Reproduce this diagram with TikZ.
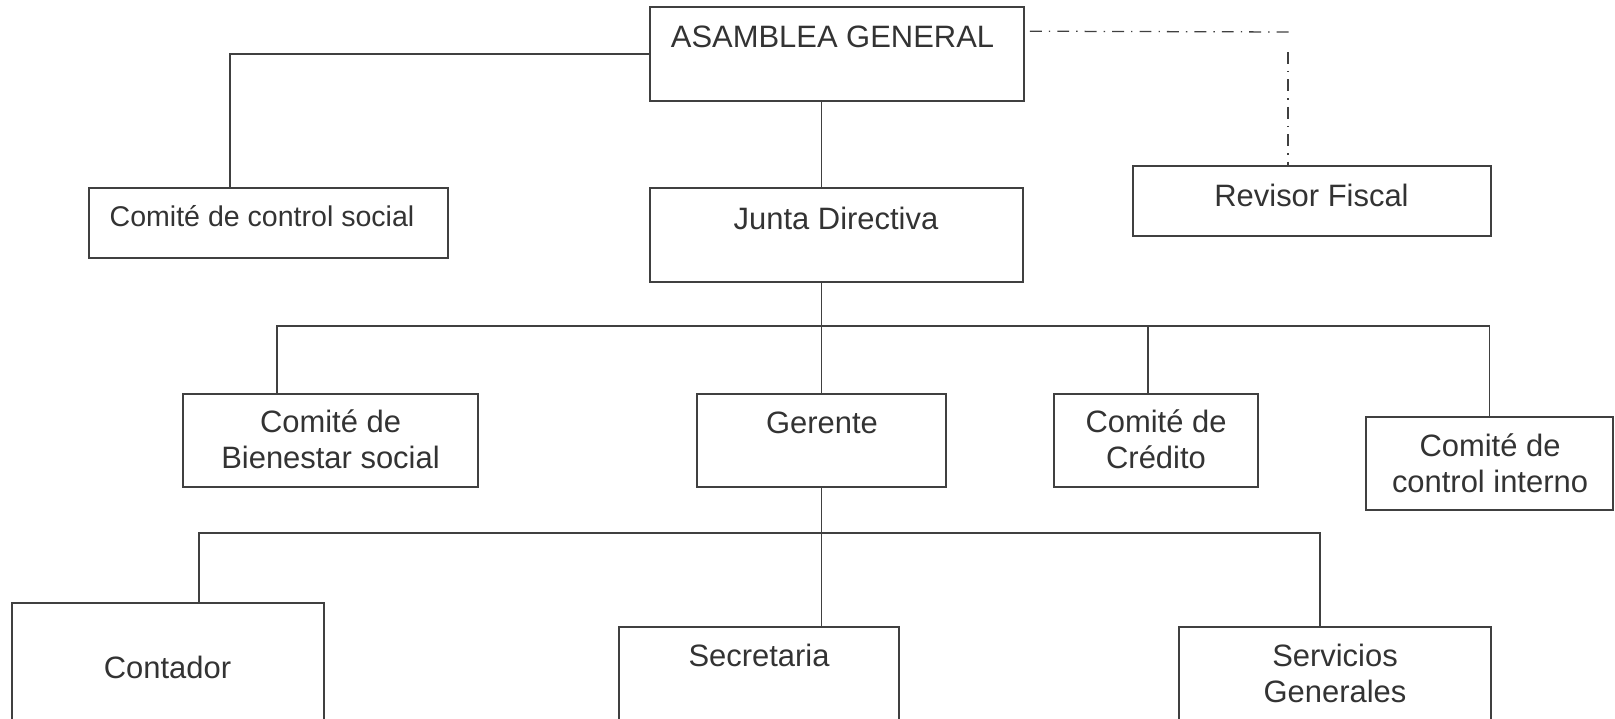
\documentclass[tikz,border=0pt]{standalone}
\usepackage{fontspec}
\setmainfont{Liberation Sans}
\usetikzlibrary{positioning,calc}
\definecolor{linegray}{HTML}{404040}
\definecolor{textgray}{HTML}{333333}

\begin{document}
\begin{tikzpicture}[x=0.025cm, y=-0.025cm,
    box/.style={draw=linegray, line width=1.1pt, rectangle, inner sep=0pt},
    txt/.style={text=textgray, inner sep=0pt, align=center, font=\fontsize{22}{25.6}\selectfont},
    smalltxt/.style={txt, font=\fontsize{20.3}{24}\selectfont},
    link/.style={draw=linegray, line width=0.9pt},
    dashdot/.style={link, dash pattern=on 8.5pt off 5pt on 1pt off 5pt},
]
\useasboundingbox (0,0) rectangle (1615,718);

% Top level
\node[box, minimum width=9.35cm, minimum height=2.35cm] (asamblea) at (837,54) {};
\node[box, minimum width=8.975cm, minimum height=1.75cm] (social) at (268.5,223) {};
\node[box, minimum width=9.325cm, minimum height=2.35cm] (junta) at (836.5,235) {};
\node[box, minimum width=8.95cm, minimum height=1.75cm] (revisor) at (1312,201) {};

% Committees row
\node[box, minimum width=7.375cm, minimum height=2.325cm] (bienestar) at (330.5,440.5) {};
\node[box, minimum width=6.225cm, minimum height=2.325cm] (gerente) at (821.5,440.5) {};
\node[box, minimum width=5.1cm, minimum height=2.325cm] (credito) at (1156,440.5) {};
\node[box, minimum width=6.175cm, minimum height=2.325cm] (interno) at (1489.5,463.5) {};

% Staff row
\node[box, minimum width=7.8cm, minimum height=3.2cm] (contador) at (168,667) {};
\node[box, minimum width=7cm, minimum height=2.6cm] (secretaria) at (759,679) {};
\node[box, minimum width=7.8cm, minimum height=2.6cm] (servicios) at (1335,679) {};

% Texts
\node[txt, anchor=base] (asamblea-t) at (832.5,47) {ASAMBLEA GENERAL};
\node[smalltxt, anchor=base] (social-t) at (262,226) {Comité de control social};
\node[txt, anchor=base] (junta-t) at (836,229) {Junta Directiva};
\node[txt, anchor=base] (revisor-t) at (1311.5,206) {Revisor Fiscal};
\node[txt] (bienestar-t) at (330.5,439.5) {Comité de\\Bienestar social};
\node[txt, anchor=base] (gerente-t) at (822,433) {Gerente};
\node[txt] (credito-t) at (1156,439.5) {Comité de\\Crédito};
\node[txt] (interno-t) at (1490,463) {Comité de\\control interno};
\node[txt, anchor=base] (contador-t) at (167.5,678) {Contador};
\node[txt, anchor=base] (secretaria-t) at (759,666) {Secretaria};
\node[txt] (servicios-t) at (1335,673) {Servicios\\Generales};

% Drop points
\coordinate (socialtop) at (230,188);
\coordinate (dashend) at (1294,32);
\coordinate (dashtop) at (1288,52);
\coordinate (revisortop) at (1288,166);
\coordinate (bar1) at (821.5,326);
\coordinate (bienestartop) at (277,394);
\coordinate (creditotop) at (1148,394);
\coordinate (bar2) at (821.5,533);
\coordinate (contadortop) at (199,603);
\coordinate (serviciostop) at (1320,627);

% Connectors
\draw[link] (asamblea.west) -| (socialtop);
\draw[dashdot] ([shift={(5,25)}]asamblea.north east) -- (dashend);
\draw[dashdot] (dashtop) -- (revisortop);
\draw[link] (asamblea.south -| gerente.north) -- (junta.north -| gerente.north);
\draw[link] (junta.south -| gerente.north) -- (gerente.north);
\foreach \c in {bienestartop, creditotop, interno.north}
  \draw[link] (bar1) -| (\c);
\draw[link] (gerente.south) -- (gerente.south |- secretaria.north);
\foreach \c in {contadortop, serviciostop}
  \draw[link] (bar2) -| (\c);
\end{tikzpicture}
\end{document}
